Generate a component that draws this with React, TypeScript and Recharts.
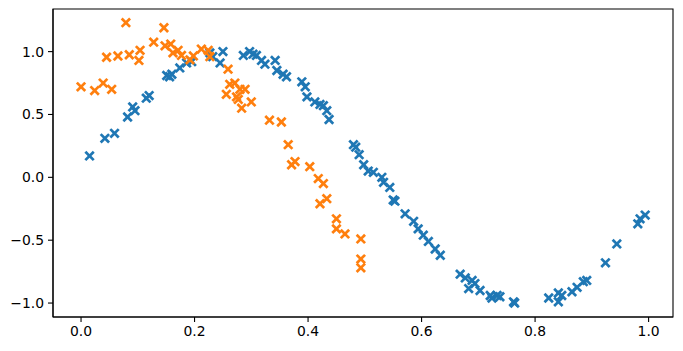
import React from "react";
import {
  ScatterChart,
  Scatter,
  XAxis,
  YAxis,
  ReferenceArea,
} from "recharts";

// values
const blueX = [
  0.015, 0.042, 0.059, 0.082, 0.091, 0.095, 0.115, 0.12, 0.151, 0.156, 0.16,
  0.174, 0.186, 0.195, 0.227, 0.232, 0.245, 0.25, 0.286, 0.297, 0.303, 0.309,
  0.318, 0.324, 0.342, 0.345, 0.356, 0.362, 0.389, 0.395, 0.398, 0.412, 0.421,
  0.427, 0.433, 0.437, 0.48, 0.484, 0.49, 0.498, 0.506, 0.515, 0.53, 0.533,
  0.544, 0.55, 0.553, 0.571, 0.586, 0.594, 0.603, 0.612, 0.624, 0.633, 0.668,
  0.677, 0.689, 0.694, 0.683, 0.703, 0.721, 0.724, 0.733, 0.738, 0.762, 0.764,
  0.824, 0.841, 0.841, 0.847, 0.865, 0.874, 0.885, 0.891, 0.924, 0.944, 0.981,
  0.985, 0.994,
];
const blueY = [
  0.17, 0.31, 0.35, 0.48, 0.56, 0.53, 0.63, 0.65, 0.81, 0.8, 0.82, 0.87, 0.91,
  0.92, 0.99, 0.96, 0.91, 1.0, 0.97, 1.0, 0.98, 0.97, 0.93, 0.9, 0.93, 0.85,
  0.82, 0.8, 0.76, 0.72, 0.64, 0.6, 0.58, 0.57, 0.53, 0.46, 0.26, 0.24, 0.18,
  0.1, 0.05, 0.04, 0.0, -0.04, -0.08, -0.18, -0.19, -0.29, -0.35, -0.41, -0.46,
  -0.51, -0.57, -0.62, -0.77, -0.8, -0.82, -0.845, -0.885, -0.9, -0.94, -0.96,
  -0.94, -0.95, -0.99, -1.0, -0.96, -0.92, -0.99, -0.94, -0.91, -0.875, -0.83,
  -0.82, -0.68, -0.53, -0.37, -0.33, -0.3,
];

const orangeX = [
  0.0, 0.024, 0.039, 0.054, 0.045, 0.065, 0.085, 0.104, 0.102, 0.079, 0.128,
  0.146, 0.148, 0.158, 0.162, 0.171, 0.177, 0.192, 0.198, 0.212, 0.224, 0.227,
  0.259, 0.262, 0.256, 0.271, 0.274, 0.28, 0.289, 0.277, 0.3, 0.283, 0.332,
  0.353, 0.365, 0.371, 0.377, 0.403, 0.418, 0.427, 0.421, 0.433, 0.45, 0.45,
  0.465, 0.493, 0.493, 0.493,
];
const orangeY = [
  0.72, 0.69, 0.75, 0.7, 0.955, 0.965, 0.975, 1.01, 0.93, 1.23, 1.075, 1.19,
  1.046, 1.06, 0.99, 1.01, 0.97, 0.935, 0.966, 1.02, 1.01, 0.96, 0.86, 0.74,
  0.66, 0.75, 0.64, 0.7, 0.7, 0.62, 0.6, 0.55, 0.455, 0.44, 0.26, 0.1, 0.125,
  0.085, -0.01, -0.05, -0.21, -0.17, -0.33, -0.41, -0.45, -0.49, -0.65, -0.72,
];

const xTicks = [0, 0.2, 0.4, 0.6, 0.8, 1.0];
const yTicks = [-1, -0.5, 0, 0.5, 1];
const xDomain: [number, number] = [-0.0494, 1.043];
const yDomain: [number, number] = [-1.111, 1.339];

const blueData = blueX.map((x, i) => ({ x, y: blueY[i] }));
const orangeData = orangeX.map((x, i) => ({ x, y: orangeY[i] }));

const fmt = (v: number) => v.toFixed(1).replace("-", "\u2212");

function cross(color: string) {
  return (props: any) => {
    const { cx, cy } = props;
    const r = 4.2;
    return (
      <g stroke={color} strokeWidth={2.7}>
        <line x1={cx - r} y1={cy - r} x2={cx + r} y2={cy + r} />
        <line x1={cx - r} y1={cy + r} x2={cx + r} y2={cy - r} />
      </g>
    );
  };
}

const tickStyle = { fill: "#000", fontSize: 13.9, fontFamily: "DejaVu Sans" };

export default function App() {
  return (
    <div style={{ position: "absolute", left: 0, top: 0, fontFamily: "DejaVu Sans" }}>
      <ScatterChart
        width={683}
        height={351}
        margin={{ top: 9, right: 10, bottom: 4, left: 0 }}
        style={{ background: "#fff" }}
      >
        <XAxis
          type="number"
          dataKey="x"
          domain={xDomain}
          ticks={xTicks}
          allowDataOverflow
          tickFormatter={fmt}
          height={30}
          tickSize={5}
          tickMargin={4}
          tick={tickStyle}
          stroke="#000"
          axisLine={{ stroke: "#000", strokeWidth: 1.1 }}
          tickLine={{ stroke: "#000", strokeWidth: 1.1 }}
        />
        <YAxis
          type="number"
          dataKey="y"
          domain={yDomain}
          ticks={yTicks}
          allowDataOverflow
          tickFormatter={fmt}
          width={53}
          tickSize={5}
          tickMargin={4}
          tick={tickStyle}
          stroke="#000"
          axisLine={{ stroke: "#000", strokeWidth: 1.1 }}
          tickLine={{ stroke: "#000", strokeWidth: 1.1 }}
        />
        <ReferenceArea
          x1={xDomain[0]}
          x2={xDomain[1]}
          y1={yDomain[0]}
          y2={yDomain[1]}
          fill="none"
          stroke="#000"
          strokeWidth={1.1}
          ifOverflow="visible"
        />
        <Scatter
          data={blueData}
          fill="#1f77b4"
          shape={cross("#1f77b4")}
          isAnimationActive={false}
        />
        <Scatter
          data={orangeData}
          fill="#ff7f0e"
          shape={cross("#ff7f0e")}
          isAnimationActive={false}
        />
      </ScatterChart>
    </div>
  );
}
